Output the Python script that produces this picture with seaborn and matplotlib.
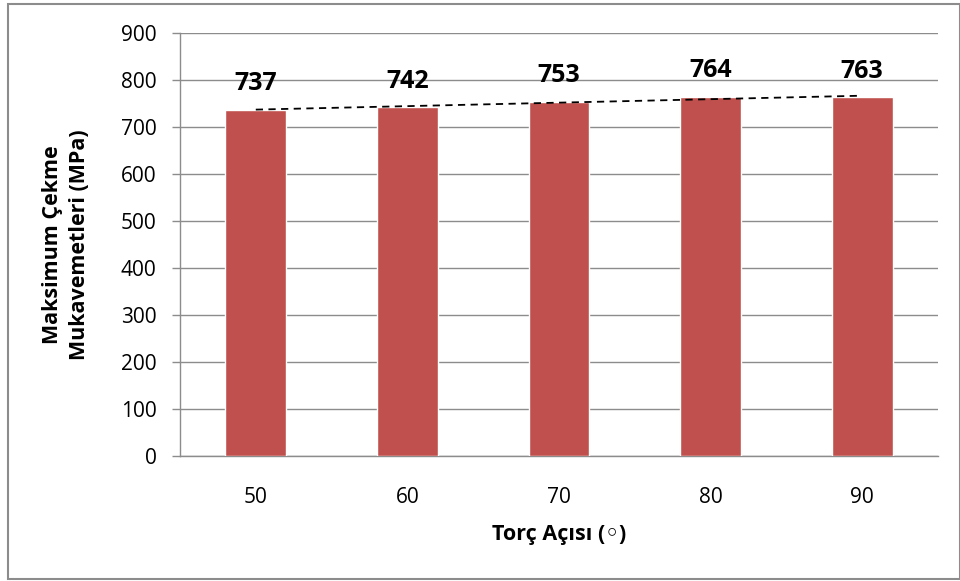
import matplotlib
matplotlib.use("Agg")
import matplotlib.pyplot as plt
import seaborn as sns
import numpy as np
import pandas as pd
from matplotlib.patches import Rectangle

angles = ["50", "60", "70", "80", "90"]
strength = [737, 742, 753, 764, 763]
y_ticks = [0, 100, 200, 300, 400, 500, 600, 700, 800, 900]

sns.set_theme(style="white")
plt.rcParams['font.family'] = ['Open Sans', 'DejaVu Sans']
plt.rcParams['text.color'] = 'black'
plt.rcParams['axes.labelcolor'] = 'black'
plt.rcParams['xtick.color'] = 'black'
plt.rcParams['ytick.color'] = 'black'

df = pd.DataFrame({"angle": angles, "strength": strength})

fig = plt.figure(figsize=(9.6, 5.81), dpi=100)
ax = fig.add_axes([180/960, 1-456/581, (938-180)/960, (456-33)/581])

sns.barplot(data=df, x="angle", y="strength", color="#C0504D", width=0.4,
            saturation=1, ax=ax, zorder=3)

# linear trendline
xs = np.arange(len(angles))
coef = np.polyfit(xs, strength, 1)
ax.plot(xs, np.polyval(coef, xs), linestyle=(0, (4, 3)), color="black", lw=1.3, zorder=4)

for i, v in enumerate(strength):
    ax.text(i, v + 42, str(v), ha="center", va="baseline", fontsize=18, fontweight="bold",
            color="black", zorder=5)

ax.set_ylim(0, 900)
ax.set_xlim(-0.5, len(angles) - 0.5)
ax.set_yticks(y_ticks)
ax.yaxis.grid(True, color="#8c8c8c", lw=1.0, zorder=0)
ax.set_axisbelow(True)
for s in ["top", "right"]:
    ax.spines[s].set_visible(False)
for s in ["left", "bottom"]:
    ax.spines[s].set_color("#8c8c8c")
    ax.spines[s].set_linewidth(1.0)
ax.tick_params(axis="y", which="major", left=True, length=6, width=1.0, color="#8c8c8c",
               labelcolor="black", labelsize=15, pad=11)
ax.tick_params(axis="x", which="major", bottom=False, labelcolor="black", labelsize=15, pad=16)

ax.set_xlabel("Torç Açısı (◦)", fontsize=15.5, fontweight="bold", labelpad=12, color="black")
ax.set_ylabel("Maksimum Çekme\nMukavemetleri (MPa)", fontsize=15.5, fontweight="bold", labelpad=22,
              linespacing=1.4, color="black")

fig.patches.append(Rectangle((8/960, 2/581), 1 - 8/960 - 0.5/960, 575/581, transform=fig.transFigure,
                             fill=False, edgecolor="#8c8c8c", lw=1.5))

fig.savefig("out.png", dpi=100)
